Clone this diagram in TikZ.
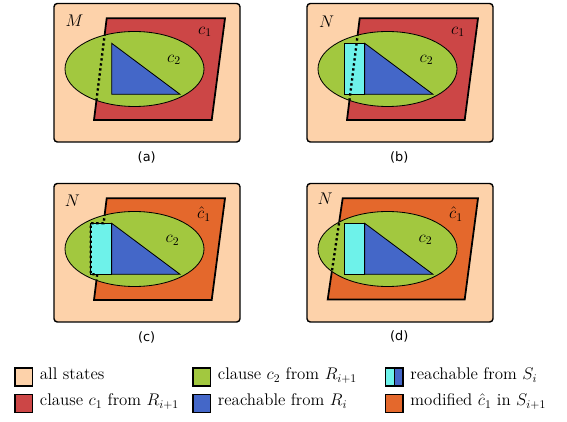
\documentclass[tikz,border=0pt]{standalone}
\usepackage{fontspec}
\newfontfamily\capfont{DejaVu Sans}
\usetikzlibrary{positioning}
\definecolor{peach}{HTML}{FDD2AA}
\definecolor{clred}{HTML}{CC4646}
\definecolor{clgreen}{HTML}{A2C83F}
\definecolor{clblue}{HTML}{4467C8}
\definecolor{clcyan}{HTML}{6EF2EA}
\definecolor{clorange}{HTML}{E4682C}

\begin{document}
\begin{tikzpicture}[x=0.3mm,y=-0.3mm,
  frame/.style={draw,line width=1.2pt,rounded corners=1mm,fill=peach},
  clause/.style={draw,line width=1.5pt},
  region/.style={draw,line width=0.7pt},
  dots/.style={line width=2pt,dash pattern=on 2pt off 2.3pt},
  lbl/.style={font=\Large},
  captext/.style={font=\capfont\fontsize{11}{13}\selectfont},
  swatch/.style={draw,line width=1.2pt,minimum width=5.2mm,minimum height=5.4mm,inner sep=0pt},
  legtext/.style={font=\Large,inner sep=0pt,text height=0.75em,text depth=0.3em}]
  \useasboundingbox (0,0) rectangle (567,422);

  % (a)
  \draw[frame] (54,3.5) rectangle (240,142);
  \draw[clause,fill=clred] (106.7,18.3) -- (225,18.3) -- (211.7,120) -- (94,120) -- cycle;
  \draw[region,fill=clgreen] (134.5,69) ellipse [x radius=69.5,y radius=37.5];
  \draw[region,fill=clblue] (111.7,43.3) -- (180,94.3) -- (111.7,94.3) -- cycle;
  \begin{scope}
    \clip (134.5,69) ellipse [x radius=69.5,y radius=37.5];
    \draw[dots] (106.7,18.3) -- (94,120);
  \end{scope}
  \node[lbl] (Ma) at (74.5,21) {$M$};
  \node[lbl] (c1a) at (205,32) {$c_1$};
  \node[lbl] (c2a) at (174,60) {$c_2$};
  \node[captext] (capa) at (146.7,157.5) {(a)};

  % (b)
  \begin{scope}[shift={(253,0)}]
    \draw[frame] (54,3.5) rectangle (240,142);
    \draw[clause,fill=clred] (106.7,18.3) -- (225,18.3) -- (211.7,120) -- (94,120) -- cycle;
    \draw[region,fill=clgreen] (134.5,69) ellipse [x radius=69.5,y radius=37.5];
    \draw[region,fill=clblue] (111.7,43.3) -- (180,94.3) -- (111.7,94.3) -- cycle;
    \draw[region,fill=clcyan] (91,43.3) rectangle (111.7,94.3);
    \begin{scope}
      \clip (134.5,69) ellipse [x radius=69.5,y radius=37.5];
      \draw[dots] (106.7,18.3) -- (94,120);
    \end{scope}
    \node[lbl] (Nb) at (73.5,22) {$N$};
    \node[lbl] (c1b) at (205,32) {$c_1$};
    \node[lbl] (c2b) at (173.5,60) {$c_2$};
    \node[captext] (capb) at (146.3,157.5) {(b)};
  \end{scope}

  % (c)
  \begin{scope}[shift={(0,180)}]
    \draw[frame] (54,3.5) rectangle (240,142);
    \draw[clause,fill=clorange] (106.7,18.3) -- (225,18.3) -- (211.7,120) -- (94,120) -- cycle;
    \draw[region,fill=clgreen] (134.5,69) ellipse [x radius=69.5,y radius=37.5];
    \draw[region,fill=clblue] (111.7,43.3) -- (180,94.3) -- (111.7,94.3) -- cycle;
    \draw[region,fill=clcyan] (90.7,43.3) rectangle (111.7,94.3);
    \begin{scope}
      \clip (134.5,69) ellipse [x radius=69.5,y radius=37.5];
      \draw[dots] (106.7,18.3) -- (103.6,43.3) -- (90.7,43.3) -- (90.7,94.3) -- (97.2,94.3) -- (94,120);
    \end{scope}
    \node[lbl] (Nc) at (72.3,21) {$N$};
    \node[lbl] (c1c) at (204,34) {$\hat{c}_1$};
    \node[lbl] (c2c) at (172.5,60.5) {$c_2$};
    \node[captext] (capc) at (146.7,157.5) {(c)};
  \end{scope}

  % (d)
  \begin{scope}[shift={(253,180)}]
    \draw[frame] (54,3.5) rectangle (240,142);
    \draw[clause,fill=clorange] (89.7,18.3) -- (225,18.3) -- (211.7,119.5) -- (74.7,119.5) -- cycle;
    \draw[region,fill=clgreen] (134.5,69) ellipse [x radius=69.5,y radius=37.5];
    \draw[region,fill=clblue] (111.7,43.3) -- (180,94.3) -- (111.7,94.3) -- cycle;
    \draw[region,fill=clcyan] (91,43.3) rectangle (111.7,94.3);
    \begin{scope}
      \clip (134.5,69) ellipse [x radius=69.5,y radius=37.5];
      \draw[dots] (89.7,18.3) -- (74.7,119.5);
    \end{scope}
    \node[lbl] (Nd) at (72,19) {$N$};
    \node[lbl] (c1d) at (203,34) {$\hat{c}_1$};
    \node[lbl] (c2d) at (172.5,60) {$c_2$};
    \node[captext] (capd) at (146.3,156.7) {(d)};
  \end{scope}

  % legend
  \node[swatch,fill=peach] (swAll) at (23.7,377) {};
  \node[legtext,right=2mm of swAll] (txAll) {all states};
  \node[swatch,fill=clred] (swCa) at (23.7,403.3) {};
  \node[legtext,right=2mm of swCa] (txCa) {clause $c_1$ from $R_{i+1}$};
  \node[swatch,fill=clgreen] (swCb) at (201.7,377) {};
  \node[legtext,right=2mm of swCb] (txCb) {clause $c_2$ from $R_{i+1}$};
  \node[swatch,fill=clblue] (swR) at (201.7,403.3) {};
  \node[legtext,right=2mm of swR] (txR) {reachable from $R_i$};
  \node[swatch,fill=clblue,path picture={
      \fill[clcyan] (path picture bounding box.north west) rectangle (path picture bounding box.south);
      \draw[line width=1pt] (path picture bounding box.north) -- (path picture bounding box.south);}] (swS) at (394.2,377) {};
  \node[legtext,right=2mm of swS] (txS) {reachable from $S_i$};
  \node[swatch,fill=clorange] (swMod) at (394.2,403.3) {};
  \node[legtext,right=2mm of swMod] (txMod) {modified $\hat{c}_1$ in $S_{i+1}$};
\end{tikzpicture}
\end{document}
